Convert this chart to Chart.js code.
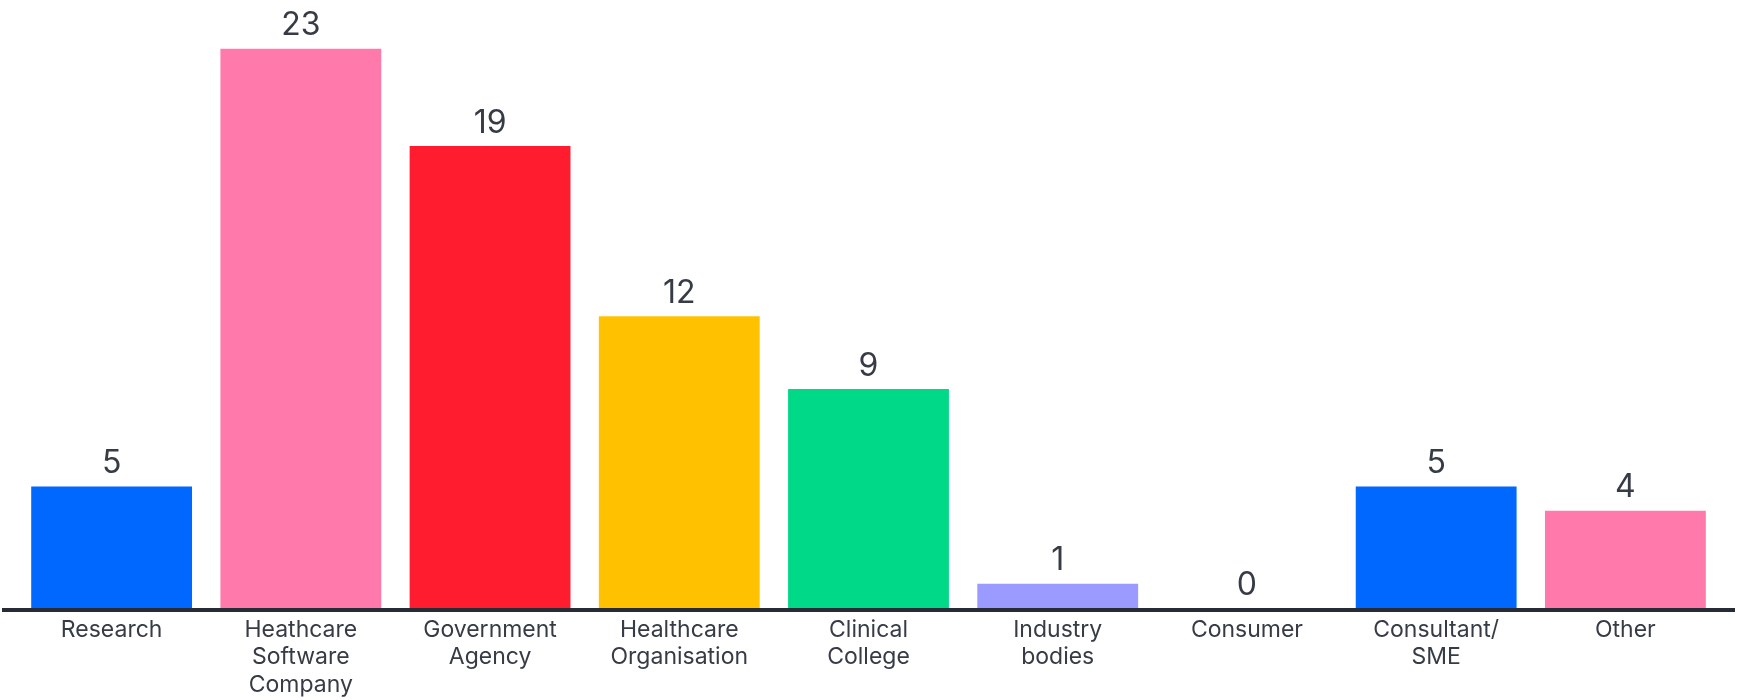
<!DOCTYPE html>
<html lang="en">
<head>
  <meta charset="UTF-8">
  <title>Respondents by sector</title>
  <script src="https://cdn.jsdelivr.net/npm/chart.js"></script>
  <style>
    html, body { margin: 0; padding: 0; background: #fff; }
    #wrap { width: 1737px; height: 700px; }
  </style>
</head>
<body>
  <div id="wrap"><canvas id="myChart"></canvas></div>
  <script>
    // Data
    const categories = [
      'Research',
      ['Heathcare', 'Software', 'Company'],
      ['Government', 'Agency'],
      ['Healthcare', 'Organisation'],
      ['Clinical', 'College'],
      ['Industry', 'bodies'],
      'Consumer',
      ['Consultant/', 'SME'],
      'Other'
    ];
    const counts = [5, 23, 19, 12, 9, 1, 0, 5, 4];
    const barColours = ['#0068ff', '#ff79ab', '#ff1c2f', '#ffc100', '#00d988', '#9a9aff', '#9a9aff', '#0068ff', '#ff79ab'];

    const textColour = '#363b46';
    const fontFamily = 'Inter, "Noto Sans", sans-serif';

    // value labels above each bar
    const valueLabels = {
      id: 'valueLabels',
      afterDatasetsDraw(chart) {
        const ctx = chart.ctx;
        const meta = chart.getDatasetMeta(0);
        ctx.save();
        ctx.font = '400 32px ' + fontFamily;
        ctx.fillStyle = textColour;
        ctx.textAlign = 'center';
        ctx.textBaseline = 'bottom';
        meta.data.forEach((bar, i) => {
          ctx.fillText(String(counts[i]), bar.x, bar.y - 7);
        });
        ctx.restore();
      }
    };

    // the dark baseline runs the full width
    const baseLine = {
      id: 'baseLine',
      afterDatasetsDraw(chart) {
        const ctx = chart.ctx;
        const y = chart.scales.y.getPixelForValue(0);
        ctx.save();
        ctx.strokeStyle = '#262b36';
        ctx.lineWidth = 4;
        ctx.beginPath();
        ctx.moveTo(2, y + 2);
        ctx.lineTo(1735, y + 2);
        ctx.stroke();
        ctx.restore();
      }
    };

    const ctx = document.getElementById('myChart').getContext('2d');
    const myChart = new Chart(ctx, {
      type: 'bar',
      data: {
        labels: categories,
        datasets: [{
          data: counts,
          backgroundColor: barColours,
          borderWidth: 0,
          barPercentage: 0.85,
          categoryPercentage: 1
        }]
      },
      options: {
        responsive: true,
        maintainAspectRatio: false,
        animation: false,
        layout: { padding: { left: 17, right: 17, top: 0, bottom: 0 } },
        plugins: {
          legend: { display: false },
          tooltip: { enabled: false }
        },
        scales: {
          x: {
            grid: { display: false, drawTicks: false },
            border: { display: false },
            ticks: {
              color: textColour,
              font: { family: fontFamily, size: 23, lineHeight: 1.2 },
              padding: 8,
              maxRotation: 0,
              autoSkip: false
            },
            afterFit(scale) { scale.height = 92; }
          },
          y: {
            display: false,
            min: 0,
            max: 25
          }
        }
      },
      plugins: [valueLabels, baseLine]
    });
  </script>
</body>
</html>
